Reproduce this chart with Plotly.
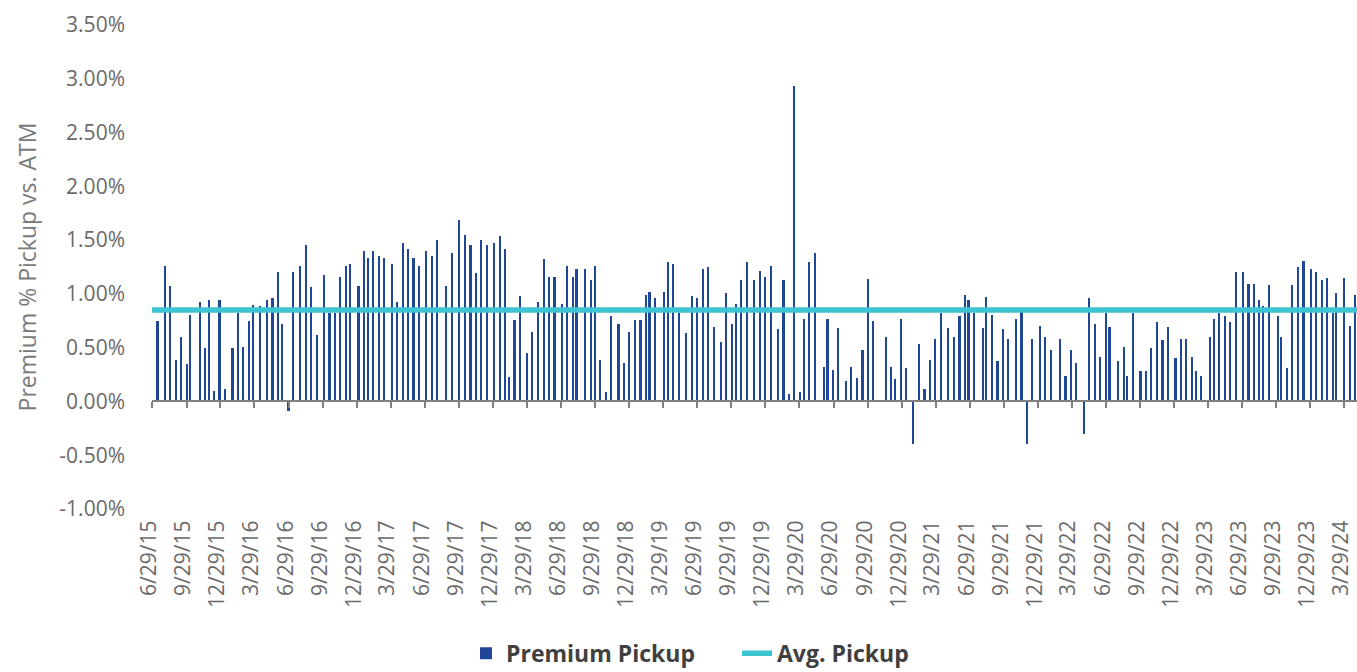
import pandas as pd
import plotly.graph_objects as go

START = "2015-06-29"

day_offsets = [
    15, 34, 49, 64, 79, 94, 103, 128, 143, 153, 167, 181, 196, 216, 230, 245, 260, 270, 289, 309,
    323, 338, 348, 366, 378, 397, 412, 427, 442, 461, 476, 491, 505, 520, 530, 554, 569, 579, 593, 608,
    623, 643, 658, 672, 687, 701, 716, 735, 750, 765, 789, 805, 824, 840, 854, 869, 883, 898, 917, 933,
    947, 957, 972, 986, 1006, 1020, 1035, 1050, 1064, 1079, 1099, 1113, 1128, 1138, 1162, 1177, 1187, 1202, 1217, 1231,
    1251, 1266, 1280, 1295, 1310, 1324, 1334, 1349, 1373, 1383, 1398, 1413, 1432, 1447, 1462, 1477, 1491, 1506, 1526, 1540,
    1555, 1565, 1580, 1595, 1614, 1630, 1644, 1659, 1678, 1693, 1708, 1722, 1738, 1748, 1762, 1777, 1801, 1811, 1826, 1840,
    1860, 1874, 1890, 1905, 1919, 1934, 1967, 1982, 1992, 2008, 2022, 2041, 2057, 2071, 2086, 2100, 2115, 2135, 2150, 2165,
    2179, 2189, 2204, 2228, 2237, 2252, 2267, 2282, 2296, 2316, 2331, 2345, 2360, 2380, 2395, 2410, 2434, 2449, 2464, 2478,
    2498, 2512, 2528, 2542, 2557, 2567, 2590, 2606, 2615, 2631, 2650, 2665, 2679, 2695, 2709, 2724, 2744, 2758, 2773, 2788,
    2798, 2813, 2837, 2847, 2861, 2876, 2891, 2906, 2925, 2940, 2955, 2969, 2979, 2994, 3018, 3028, 3043, 3057, 3072, 3087,
    3107, 3121, 3136, 3150, 3166, 3175, 3195, 3212, 3225,
]

# Premium % pickup vs. ATM (in %)
premium_pickup = [
    0.75, 1.26, 1.07, 0.39, 0.60, 0.35, 0.80, 0.92, 0.50, 0.94, 0.10, 0.94, 0.12, 0.50, 0.82, 0.51, 0.75, 0.90, 0.89, 0.94,
    0.96, 1.20, 0.72, -0.09, 1.20, 1.26, 1.45, 1.06, 0.62, 1.18, 0.82, 0.82, 1.16, 1.26, 1.28, 1.07, 1.40, 1.33, 1.40, 1.35,
    1.33, 1.28, 0.92, 1.47, 1.42, 1.33, 1.26, 1.40, 1.35, 1.50, 1.07, 1.38, 1.69, 1.55, 1.45, 1.19, 1.50, 1.45, 1.47, 1.54,
    1.42, 0.23, 0.76, 0.98, 0.45, 0.65, 0.92, 1.32, 1.16, 1.16, 0.91, 1.26, 1.16, 1.23, 1.23, 1.13, 1.26, 0.39, 0.09, 0.79,
    0.72, 0.36, 0.65, 0.76, 0.76, 0.99, 1.02, 0.96, 1.02, 1.30, 1.28, 0.82, 0.64, 0.98, 0.96, 1.23, 1.25, 0.69, 0.55, 1.01,
    0.72, 0.91, 1.13, 1.30, 1.13, 1.21, 1.16, 1.26, 0.67, 1.13, 0.07, 2.93, 0.09, 0.77, 1.30, 1.38, 0.32, 0.77, 0.29, 0.68,
    0.19, 0.32, 0.22, 0.48, 1.14, 0.75, 0.60, 0.32, 0.21, 0.77, 0.31, -0.40, 0.53, 0.12, 0.39, 0.58, 0.82, 0.68, 0.60, 0.79,
    0.99, 0.94, 0.82, 0.68, 0.97, 0.80, 0.38, 0.67, 0.58, 0.77, 0.83, -0.40, 0.58, 0.70, 0.60, 0.48, 0.58, 0.24, 0.48, 0.36,
    -0.30, 0.96, 0.72, 0.41, 0.82, 0.69, 0.38, 0.51, 0.24, 0.82, 0.28, 0.28, 0.50, 0.74, 0.57, 0.69, 0.40, 0.58, 0.58, 0.41,
    0.28, 0.24, 0.60, 0.77, 0.82, 0.79, 0.74, 1.20, 1.20, 1.09, 1.09, 0.94, 0.89, 1.08, 0.79, 0.60, 0.31, 1.08, 1.25, 1.31,
    1.23, 1.20, 1.13, 1.15, 0.82, 1.01, 1.15, 0.70, 0.99,
]

AVG_PICKUP = 0.85

tick_dates = [
    "2015-06-29", "2015-09-29", "2015-12-29", "2016-03-29", "2016-06-29", "2016-09-29", "2016-12-29",
    "2017-03-29", "2017-06-29", "2017-09-29", "2017-12-29", "2018-03-29", "2018-06-29", "2018-09-29",
    "2018-12-29", "2019-03-29", "2019-06-29", "2019-09-29", "2019-12-29", "2020-03-29", "2020-06-29",
    "2020-09-29", "2020-12-29", "2021-03-29", "2021-06-29", "2021-09-29", "2021-12-29", "2022-03-29",
    "2022-06-29", "2022-09-29", "2022-12-29", "2023-03-29", "2023-06-29", "2023-09-29", "2023-12-29",
    "2024-03-29",
]
tick_labels = [
    "6/29/15", "9/29/15", "12/29/15", "3/29/16", "6/29/16", "9/29/16", "12/29/16",
    "3/29/17", "6/29/17", "9/29/17", "12/29/17", "3/29/18", "6/29/18", "9/29/18",
    "12/29/18", "3/29/19", "6/29/19", "9/29/19", "12/29/19", "3/29/20", "6/29/20",
    "9/29/20", "12/29/20", "3/29/21", "6/29/21", "9/29/21", "12/29/21", "3/29/22",
    "6/29/22", "9/29/22", "12/29/22", "3/29/23", "6/29/23", "9/29/23", "12/29/23",
    "3/29/24",
]
y_ticks = [-1.0, -0.5, 0.0, 0.5, 1.0, 1.5, 2.0, 2.5, 3.0, 3.5]
y_tick_labels = ["-1.00%", "-0.50%", "0.00%", "0.50%", "1.00%", "1.50%", "2.00%", "2.50%", "3.00%", "3.50%"]

start = pd.Timestamp(START)
dates = start + pd.to_timedelta(day_offsets, unit="D")
x_lo = start - pd.Timedelta(hours=12)
x_hi = start + pd.Timedelta(days=3230)

FONT = "Open Sans"
GRAY = "#6a6a6a"

fig = go.Figure()
fig.add_trace(go.Bar(
    x=dates, y=premium_pickup, name="Premium Pickup",
    width=4.5 * 86400000,
    marker=dict(color="#1f4796", line=dict(width=0)),
))
fig.add_trace(go.Scatter(
    x=[x_lo, x_hi], y=[AVG_PICKUP, AVG_PICKUP], name="Avg. Pickup",
    mode="lines", line=dict(color="#3dc3d2", width=5.5),
))

fig.update_layout(
    width=1357, height=672,
    margin=dict(l=152, r=0, t=25, b=163, autoexpand=False),
    paper_bgcolor="white", plot_bgcolor="white",
    font=dict(family=FONT, color=GRAY),
    showlegend=True,
    legend=dict(
        orientation="h", xref="paper", yref="paper",
        x=(466 - 152) / 1205, xanchor="left", y=-0.298, yanchor="middle",
        font=dict(family=FONT, size=23, color="#404040", weight="bold"),
        itemwidth=30, entrywidth=226, traceorder="normal",
    ),
    xaxis=dict(
        type="date", range=[x_lo, x_hi], automargin=False,
        anchor="free", position=1.0 / 4.5,
        showline=True, linecolor="#808080", linewidth=1.5,
        ticks="outside", ticklen=6, tickcolor="#808080", tickwidth=1.5,
        tickvals=pd.to_datetime(tick_dates), ticktext=tick_labels,
        tickangle=-90, ticklabelstandoff=104, ticklabelshift=-3,
        tickfont=dict(family=FONT, size=21, color=GRAY),
        showgrid=False, zeroline=False,
    ),
    yaxis=dict(
        range=[-1.0, 3.5], automargin=False,
        tickvals=y_ticks, ticktext=y_tick_labels,
        tickfont=dict(family=FONT, size=21, color=GRAY),
        ticks="", ticklabelstandoff=26,
        showgrid=False, zeroline=False, showline=False,
        title=dict(text="Premium % Pickup vs. ATM",
                   font=dict(family=FONT, size=23, color="#7a7a7a"), standoff=16),
    ),
    bargap=0,
)

# remove the browser's default page margin so the 1357x672 figure fills the window exactly
fig.write_html("out.html", config={"displayModeBar": False},
               post_script="document.body.style.margin='0';")
